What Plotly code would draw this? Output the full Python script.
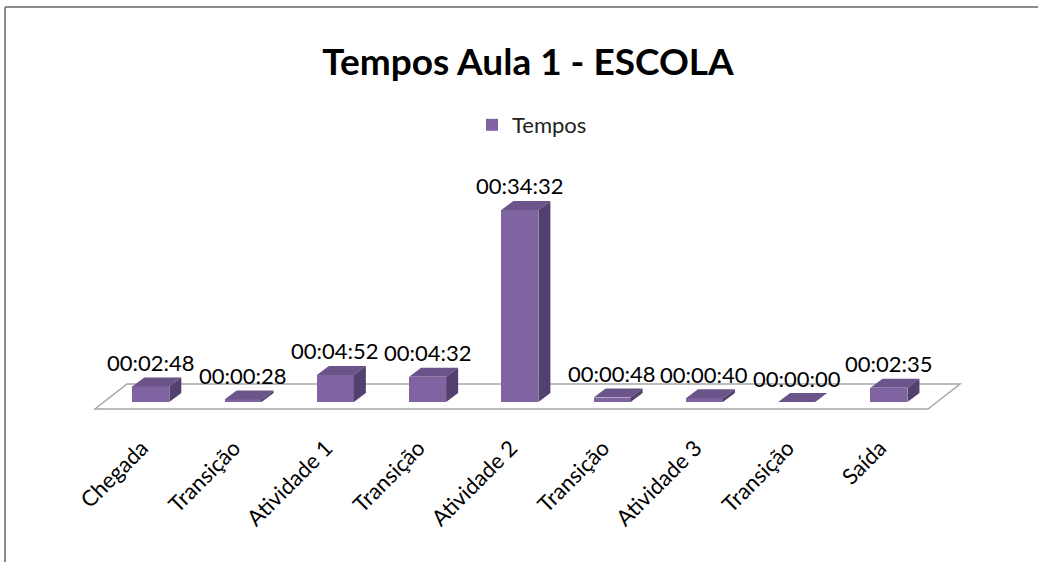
import plotly.graph_objects as go

# ---------------- data ----------------
categories = ["Chegada", "Transição", "Atividade 1", "Transição", "Atividade 2",
              "Transição", "Atividade 3", "Transição", "Saída"]
durations = ["00:02:48", "00:00:28", "00:04:52", "00:04:32", "00:34:32",
             "00:00:48", "00:00:40", "00:00:00", "00:02:35"]
series_name = "Tempos"
title_text = "Tempos Aula 1 - ESCOLA"


def to_seconds(s):
    h, m, sec = (int(p) for p in s.split(":"))
    return h * 3600 + m * 60 + sec


values = [to_seconds(d) for d in durations]
xs = list(range(len(categories)))

# ---------------- layout geometry (pixels) ----------------
W, H = 1038, 562
ML, MR, MT, MB = 77, 66, 150, 132
plot_w = W - ML - MR
plot_h = H - MT - MB
XMIN, XMAX = -0.8, 8.9
px_per_x = plot_w / (XMAX - XMIN)
ZERO_PX_FROM_BOTTOM = 28            # value 0 sits 28 px above the plot bottom
PX_PER_SEC = 0.0927
YMIN = -ZERO_PX_FROM_BOTTOM / PX_PER_SEC
YMAX = YMIN + plot_h / PX_PER_SEC
LABEL_SHIFT_PX = 9                  # rotated category labels end left of bar centre

BAR_W = 37 / px_per_x
DEPTH_DX = 12 / px_per_x
DEPTH_DY = 9 / PX_PER_SEC

FRONT = "#8064A2"
TOP = "#6B548A"
SIDE = "#54406E"
FONT = "Lato"

fig = go.Figure()
fig.add_trace(go.Bar(x=xs, y=values, width=BAR_W, name=series_name,
                     marker=dict(color=FRONT, line=dict(width=0)),
                     hoverinfo="skip"))

shapes = []
# floor parallelogram
f_front_y = -7 / PX_PER_SEC
f_back_y = 18 / PX_PER_SEC
fl_x0 = XMIN + (95 - ML) / px_per_x
fr_x0 = XMIN + (928 - ML) / px_per_x
shear = 32 / px_per_x
floor_path = (f"M {fl_x0},{f_front_y} L {fr_x0},{f_front_y} "
              f"L {fr_x0 + shear},{f_back_y} L {fl_x0 + shear},{f_back_y} Z")
shapes.append(dict(type="path", xref="x", yref="y", path=floor_path,
                   fillcolor="white", line=dict(color="#A6A6A6", width=1.5),
                   layer="below"))

for x, v in zip(xs, values):
    l, r = x - BAR_W / 2, x + BAR_W / 2
    top = (f"M {l},{v} L {r},{v} L {r + DEPTH_DX},{v + DEPTH_DY} "
           f"L {l + DEPTH_DX},{v + DEPTH_DY} Z")
    side = (f"M {r},0 L {r},{v} L {r + DEPTH_DX},{v + DEPTH_DY} "
            f"L {r + DEPTH_DX},{DEPTH_DY} Z")
    shapes.append(dict(type="path", xref="x", yref="y", path=top,
                       fillcolor=TOP, line=dict(width=0)))
    shapes.append(dict(type="path", xref="x", yref="y", path=side,
                       fillcolor=SIDE, line=dict(width=0)))


# outer frame (top and left border)
def px_to_paper_x(px):
    return (px - ML) / plot_w


def px_to_paper_y(py):
    return (H - MB - py) / plot_h


shapes.append(dict(type="line", xref="paper", yref="paper",
                   x0=px_to_paper_x(5), x1=px_to_paper_x(W + 5),
                   y0=px_to_paper_y(7), y1=px_to_paper_y(7),
                   line=dict(color="#8C8C8C", width=2)))
shapes.append(dict(type="line", xref="paper", yref="paper",
                   x0=px_to_paper_x(5), x1=px_to_paper_x(5),
                   y0=px_to_paper_y(7), y1=px_to_paper_y(H + 5),
                   line=dict(color="#8C8C8C", width=2)))

annotations = []
for x, v, lab in zip(xs, values, durations):
    annotations.append(dict(x=x, y=v, xref="x", yref="y", text=lab,
                            showarrow=False, yanchor="middle", yshift=24,
                            font=dict(family=FONT, size=22, color="#000000")))

tick_positions = [x - LABEL_SHIFT_PX / px_per_x for x in xs]

fig.update_layout(
    width=W, height=H,
    margin=dict(l=ML, r=MR, t=MT, b=MB, pad=0),
    paper_bgcolor="white", plot_bgcolor="white",
    title=dict(text=f"<b>{title_text}</b>", x=528 / W, xanchor="center",
               y=1 - 62 / H, yanchor="middle", xref="container", yref="container",
               font=dict(family=FONT, size=37, color="#000000")),
    showlegend=True,
    legend=dict(x=px_to_paper_x(532), xanchor="center",
                y=px_to_paper_y(125), yanchor="middle",
                orientation="h", font=dict(family=FONT, size=22, color="#222222"),
                bgcolor="rgba(0,0,0,0)"),
    xaxis=dict(range=[XMIN, XMAX], tickmode="array", tickvals=tick_positions,
               ticktext=categories, tickangle=-45, showgrid=False,
               zeroline=False, showline=False, ticks="",
               ticklabelstandoff=0,
               tickfont=dict(family=FONT, size=22, color="#000000")),
    yaxis=dict(range=[YMIN, YMAX], visible=False, showgrid=False,
               zeroline=False),
    shapes=shapes, annotations=annotations,
    bargap=0,
)

fig.write_html("out.html")
